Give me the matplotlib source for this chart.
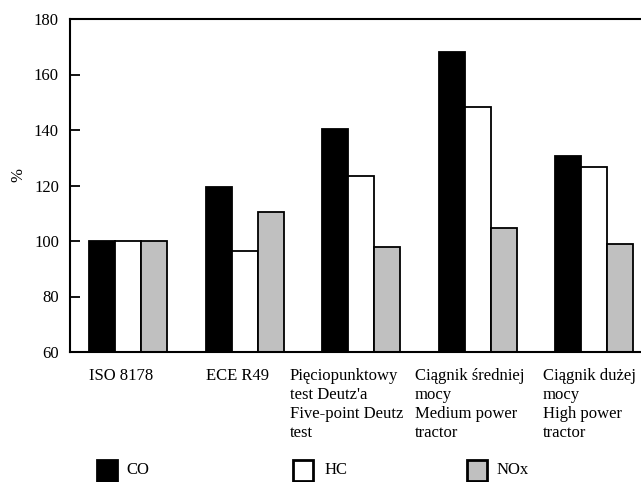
"""
Relative emission (%) of CO, HC and NOx for different test cycles.
"""

import matplotlib

matplotlib.use("Agg")
import matplotlib.pyplot as plt
import numpy as np
from matplotlib.patches import Rectangle
from matplotlib.transforms import blended_transform_factory

plt.rcParams["font.family"] = ["Liberation Serif", "DejaVu Serif"]

categories = [
    "ISO 8178",
    "ECE R49",
    "Pięciopunktowy\ntest Deutz'a\nFive-point Deutz\ntest",
    "Ciągnik średniej\nmocy\nMedium power\ntractor",
    "Ciągnik dużej\nmocy\nHigh power\ntractor",
]
co = [100, 119.6, 140.3, 168.1, 130.6]
hc = [100, 96.4, 123.4, 148.4, 126.6]
nox = [100, 110.5, 97.8, 104.7, 99.0]

series_names = ["CO", "HC", "NOx"]
series_colors = ["black", "white", "#c0c0c0"]

# where each category label starts, relative to its slot centre
label_offsets = [-0.337, -0.333, -0.612, -0.539, -0.44]

fig = plt.figure(figsize=(6.41, 4.82), dpi=100)
ax = fig.add_axes([70 / 641, 1 - 352 / 482, 1 - 70 / 641, (352 - 19) / 482])

x = np.arange(len(categories))
width = 0.223
for i, (values, color) in enumerate(zip([co, hc, nox], series_colors)):
    ax.bar(
        x + (i - 1) * width,
        values,
        width=width,
        bottom=0,
        color=color,
        edgecolor="black",
        linewidth=1.3,
    )

ax.set_ylim(60, 180)
ax.set_xlim(-0.5, 4.5 - 11.5 / 116.5)
ax.set_yticks(range(60, 181, 20))
ax.set_xticks([])
ax.tick_params(axis="y", direction="in", length=7, width=1.3, labelsize=12, pad=8)
for side in ["left", "bottom", "top"]:
    ax.spines[side].set_linewidth(1.5)
ax.spines["right"].set_visible(False)

fig.text(18 / 641, 1 - 175 / 482, "%", fontsize=12, rotation=90,
         ha="center", va="center")

trans = blended_transform_factory(ax.transData, ax.transAxes)
for xi, label, off in zip(x, categories, label_offsets):
    ax.text(
        xi + off,
        -0.047,
        label,
        transform=trans,
        ha="left",
        va="top",
        fontsize=12,
        linespacing=1.25,
    )

# legend row at the bottom
legend_x = [97, 293, 467]
text_x = [126, 325, 497]
for lx, tx, name, color in zip(legend_x, text_x, series_names, series_colors):
    fig.add_artist(
        Rectangle(
            (lx / 641, 1 - 481 / 482),
            20 / 641,
            21 / 482,
            transform=fig.transFigure,
            facecolor=color,
            edgecolor="black",
            linewidth=2,
        )
    )
    fig.text(tx / 641, 1 - 470 / 482, name, fontsize=12, va="center", ha="left")

fig.savefig("out.png", dpi=100)
